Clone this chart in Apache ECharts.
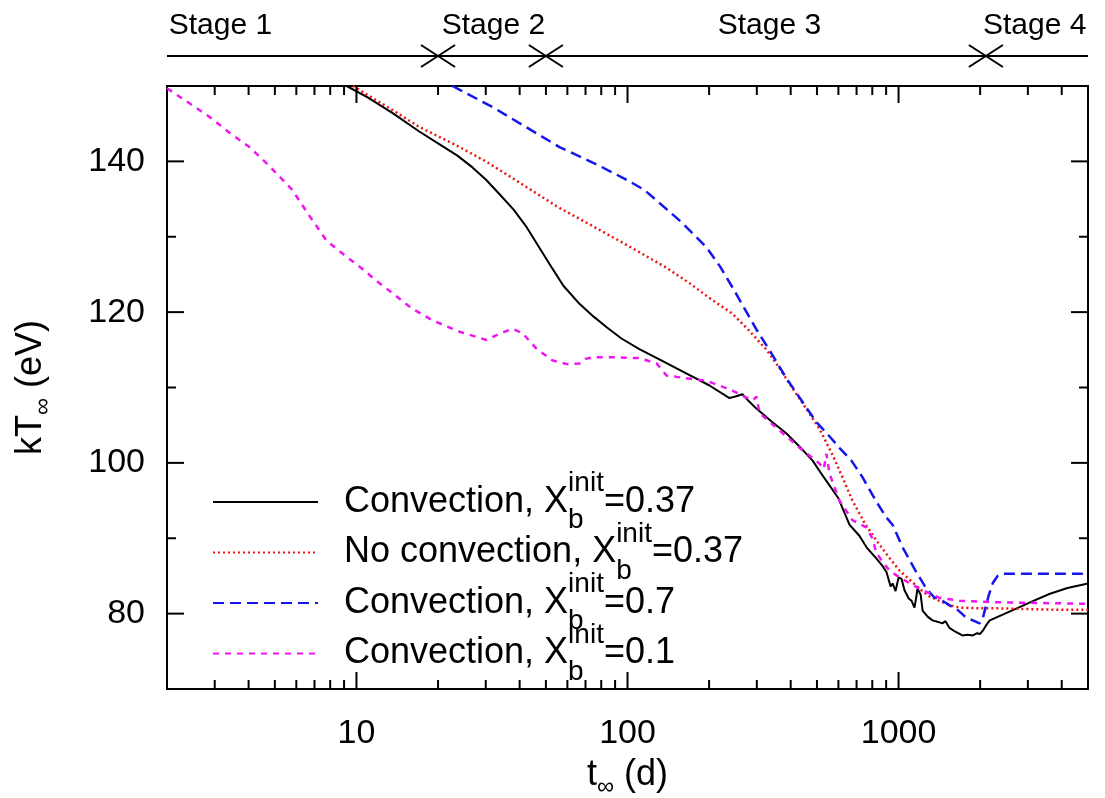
<!DOCTYPE html>
<html><head><meta charset="utf-8">
<script src="https://cdn.jsdelivr.net/npm/echarts@6/dist/echarts.min.js"></script>
<style>html,body{margin:0;padding:0;background:#fff}#c{width:1105px;height:798px}</style>
</head><body><div id="c"></div>
<script>
const FONT = "'Liberation Sans', Arial, sans-serif";
const X_MIN = 2, X_MAX = 5000, Y_MIN = 70, Y_MAX = 150;

const seriesNames = ['Convection, Xb init=0.37', 'No convection, Xb init=0.37', 'Convection, Xb init=0.7', 'Convection, Xb init=0.1'];
const legendPrefix = ['Convection, X', 'No convection, X', 'Convection, X', 'Convection, X'];
const legendValue = ['=0.37', '=0.37', '=0.7', '=0.1'];

const convection037 = [[9.2,150],[11,148.5],[13.6,146.4],[17,144],[20,142.4],[23.5,140.8],[26.8,139.2],[30,137.6],[34,135.5],[38,133.6],[42.4,131.3],[47,128.7],[52.8,125.8],[58,123.5],[66.5,121.1],[75,119.4],[83.8,118],[95,116.5],[110.6,115.1],[130,113.8],[160,112.1],[200,110.3],[237.8,108.6],[250,108.8],[265.5,109.1],[280,108.2],[299,107.2],[340,105.5],[386,103.9],[430,102.2],[482,100.3],[525,98.3],[600,95.3],[659,91.8],[718,90.3],[762,88.8],[829,87.3],[874,86.3],[903,85.5],[935,83.6],[951,84.0],[975,83.0],[1000,84.8],[1026,84.6],[1052,83.1],[1090,82.0],[1117,81.7],[1145,80.8],[1160,82.0],[1175,83.3],[1207,82.5],[1227,80.4],[1280,79.6],[1335,79.1],[1400,78.9],[1450,78.7],[1490,79.0],[1542,78.1],[1620,77.6],[1720,77.1],[1800,77.2],[1880,77.1],[1950,77.4],[2000,77.3],[2043,77.7],[2100,78.4],[2170,79.1],[2400,79.8],[2730,80.7],[3100,81.6],[3600,82.6],[4200,83.4],[5000,84.0]];
const noConvection037 = [[9.7,150],[13.6,146.8],[17,144.6],[24,141.9],[30,140.0],[42.4,136.6],[55,134.0],[79,130.9],[104,128.5],[139,125.9],[170,123.8],[200,121.9],[243.8,119.8],[280,117.6],[326,115.0],[360,112.8],[406,109.9],[460,107.0],[511,104.5],[570,101.1],[621,98.1],[676,95.0],[750,92.0],[829,89.7],[920,87.5],[1009,85.7],[1100,84.5],[1195,83.3],[1300,82.3],[1416,81.7],[1550,81.1],[1679,80.8],[2000,80.7],[2360,80.7],[3000,80.6],[4000,80.5],[5000,80.5]];
const convection07 = [[22.6,150],[31.8,147.2],[42,144.6],[56.1,141.9],[78.9,139.4],[100,137.5],[115.5,136.2],[140,133.6],[159.6,131.8],[195.7,128.6],[220,126.0],[243.8,123.3],[270,120.5],[299,117.7],[340,114.5],[386,111.2],[440,108.2],[498,105.4],[560,103.4],[605,102.0],[670,100.3],[736,98.1],[830,94.8],[900,92.8],[950,91.8],[1035,88.8],[1150,85.8],[1268,83.3],[1350,82.2],[1452,81.7],[1560,81.0],[1640,80.6],[1760,79.6],[1880,79.1],[1990,78.7],[2040,79.2],[2080,80.4],[2150,82.4],[2230,84.1],[2320,85.0],[2421,85.3],[3000,85.3],[5000,85.3]];
const convection01 = [[2,149.7],[2.4,147.8],[2.87,145.9],[3.4,143.8],[4.03,141.9],[4.8,139.3],[5.8,136.2],[6.7,132.8],[7.75,129.5],[9,127.6],[10.3,126.0],[12,124],[13.6,122.5],[16,120.5],[19.1,118.9],[24,117.4],[30.2,116.3],[34,117.2],[37.7,117.8],[41,117.2],[46,115.2],[52.8,113.6],[60,113.1],[66.5,113.2],[70,113.8],[74.3,114.0],[90,114.0],[110.6,113.9],[128,113.2],[139.3,111.6],[159.6,111.3],[195.7,110.9],[243.8,109.6],[270,108.8],[290,108.3],[299,108.8],[307,106.6],[364,104.3],[431,102.0],[511,99.9],[530,99.2],[542,101.2],[556,98.6],[605,95.0],[676,92.4],[762,91.4],[800,90.0],[829,88.0],[926,85.7],[1009,84.8],[1195,83.3],[1416,82.1],[1679,81.7],[2360,81.5],[5000,81.3]];

const xMajorTicks = [10, 100, 1000];
const xMinorTicks = [3,4,5,6,7,8,9,20,30,40,50,60,70,80,90,200,300,400,500,600,700,800,900,2000,3000,4000];
const yTickLabels = [80, 100, 120, 140];
const yMinorTicks = [90, 110, 130];

const stageNames = ['Stage 1', 'Stage 2', 'Stage 3', 'Stage 4'];
const stageLabelPos = [3.15, 32, 334, 3180];
const stageBoundaries = [20, 50, 2100];

const tickData = [];
xMajorTicks.forEach(v => tickData.push([v, Y_MIN, 0, 1]));
xMinorTicks.forEach(v => tickData.push([v, Y_MIN, 0, 0]));
yTickLabels.forEach(v => tickData.push([X_MIN, v, 1, 1]));
yMinorTicks.forEach(v => tickData.push([X_MIN, v, 1, 0]));

function renderTick(params, api) {
  const kind = api.value(2), major = api.value(3);
  const len = major ? 17 : 9;
  const st = {stroke: '#000', lineWidth: 2};
  if (kind === 0) {
    const v = api.value(0);
    const b = api.coord([v, Y_MIN]), t = api.coord([v, Y_MAX]);
    return {type: 'group', children: [
      {type: 'line', shape: {x1: b[0], y1: b[1], x2: b[0], y2: b[1] - len}, style: st},
      {type: 'line', shape: {x1: t[0], y1: t[1], x2: t[0], y2: t[1] + len}, style: st}
    ]};
  } else {
    const v = api.value(1);
    const l = api.coord([X_MIN, v]), r = api.coord([X_MAX, v]);
    return {type: 'group', children: [
      {type: 'line', shape: {x1: l[0], y1: l[1], x2: l[0] + len, y2: l[1]}, style: st},
      {type: 'line', shape: {x1: r[0], y1: r[1], x2: r[0] - len, y2: r[1]}, style: st}
    ]};
  }
}

const legendRich = {
  g: {width: 21, fontSize: 36, fontFamily: FONT},
  m: {fontSize: 36, fontFamily: FONT, color: '#000', lineHeight: 65, verticalAlign: 'middle'},
  sub: {fontSize: 28, fontFamily: FONT, color: '#000', lineHeight: 41, verticalAlign: 'bottom', width: 0},
  sup: {fontSize: 28, fontFamily: FONT, color: '#000', lineHeight: 25, verticalAlign: 'top'}
};
const titleRich = {
  a: {fontSize: 36, fontFamily: FONT, color: '#000', lineHeight: 48, verticalAlign: 'middle'},
  s: {fontSize: 24, fontFamily: FONT, color: '#000', lineHeight: 18, verticalAlign: 'bottom'}
};

const lineStyles = [
  {color: '#000000', width: 2, type: 'solid'},
  {color: '#ee1111', width: 2.5, type: [2, 3]},
  {color: '#1515ee', width: 2.5, type: [11, 6]},
  {color: '#f014f0', width: 2.5, type: [6, 6]}
];
const seriesData = [convection037, noConvection037, convection07, convection01];

const option = {
  animation: false,
  backgroundColor: '#fff',
  grid: [
    {left: 167, right: 17, top: 86, bottom: 109, show: true, borderColor: '#000', borderWidth: 2,
     backgroundColor: 'transparent', outerBoundsMode: 'none', containLabel: false},
    {left: 167, right: 17, top: 0, height: 80, show: false, outerBoundsMode: 'none', containLabel: false}
  ],
  xAxis: [
    {type: 'log', logBase: 10, min: X_MIN, max: X_MAX, gridIndex: 0,
     axisLine: {show: false}, axisTick: {show: false}, splitLine: {show: false}, minorTick: {show: false},
     axisLabel: {fontSize: 34, fontFamily: FONT, color: '#000', margin: 28,
       formatter: v => xMajorTicks.some(t => Math.abs(t - v) < 1e-6 * t) ? String(Math.round(v)) : ''},
     name: '{a|t}{s|∞}{a| (d)}', nameLocation: 'middle', nameGap: 62,
     nameTextStyle: {rich: titleRich}},
    {type: 'log', logBase: 10, min: X_MIN, max: X_MAX, gridIndex: 1, show: false}
  ],
  yAxis: [
    {type: 'value', min: Y_MIN, max: Y_MAX, interval: 10, gridIndex: 0,
     axisLine: {show: false}, axisTick: {show: false}, splitLine: {show: false},
     axisLabel: {fontSize: 34, fontFamily: FONT, color: '#000', margin: 22,
       formatter: v => yTickLabels.includes(v) ? String(v) : ''},
     name: '{a|kT}{s|∞}{a| (eV)}', nameLocation: 'middle', nameGap: 112,
     nameTextStyle: {rich: titleRich}},
    {type: 'value', min: 0, max: 1, gridIndex: 1, show: false}
  ],
  legend: {
    orient: 'vertical', left: 212, top: 469.5, padding: 0,
    itemWidth: 105, itemHeight: 14, itemGap: -14.5,
    itemStyle: {color: 'rgba(0,0,0,0)', borderColor: 'rgba(0,0,0,0)', borderWidth: 0},
    data: seriesNames,
    formatter: name => {
      const i = seriesNames.indexOf(name);
      return '{g| }{m|' + legendPrefix[i] + '}{sub|b}{sup|init}{m|' + legendValue[i] + '}';
    },
    textStyle: {rich: legendRich}
  },
  series: [
    ...seriesData.map((d, i) => ({
      name: seriesNames[i], type: 'line', data: d, symbol: 'none', xAxisIndex: 0, yAxisIndex: 0,
      lineStyle: lineStyles[i], itemStyle: {color: lineStyles[i].color}, z: 2 + i, clip: true
    })),
    {type: 'custom', xAxisIndex: 0, yAxisIndex: 0, data: tickData, encode: {x: 0, y: 1},
     renderItem: renderTick, clip: false, silent: true, z: 20},
    {type: 'line', xAxisIndex: 1, yAxisIndex: 1, data: [[X_MIN, 0.3], [X_MAX, 0.3]], symbol: 'none',
     lineStyle: {color: '#000', width: 2}, silent: true},
    {type: 'custom', xAxisIndex: 1, yAxisIndex: 1, data: stageBoundaries.map(v => [v, 0.3]), encode: {x: 0, y: 1},
     clip: false, silent: true,
     renderItem: (p, api) => {
       const c = api.coord([api.value(0), api.value(1)]);
       const st = {stroke: '#000', lineWidth: 2};
       return {type: 'group', children: [
         {type: 'line', shape: {x1: c[0] - 17, y1: c[1] - 11, x2: c[0] + 17, y2: c[1] + 11}, style: st},
         {type: 'line', shape: {x1: c[0] - 17, y1: c[1] + 11, x2: c[0] + 17, y2: c[1] - 11}, style: st}
       ]};
     }},
    {type: 'custom', xAxisIndex: 1, yAxisIndex: 1, data: stageLabelPos.map(v => [v, 0.675]), encode: {x: 0, y: 1},
     clip: false, silent: true,
     renderItem: (p, api) => {
       const c = api.coord([api.value(0), api.value(1)]);
       return {type: 'text', x: c[0], y: c[1], style: {text: stageNames[p.dataIndex], fontSize: 30, fontFamily: FONT,
         fill: '#000', align: 'center', verticalAlign: 'middle'}};
     }}
  ]
};
const chart = echarts.init(document.getElementById('c'), null, {renderer: 'canvas'});
chart.setOption(option);
</script></body></html>
